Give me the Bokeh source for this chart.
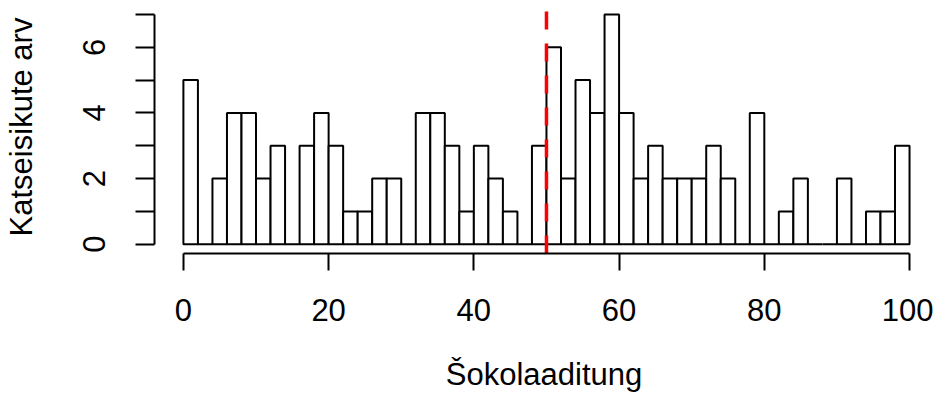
from bokeh.plotting import figure
from bokeh.models import Range1d, FixedTicker
from bokeh.embed import file_html
from bokeh.resources import INLINE

# ---- data (bins of width 2 from 0 to 100) ----
counts = [5, 0, 2, 4, 4, 2, 3, 0, 3, 4,
          3, 1, 1, 2, 2, 0, 4, 4, 3, 1,
          3, 2, 1, 0, 3, 6, 2, 5, 4, 7,
          4, 2, 3, 2, 2, 2, 3, 2, 0, 4,
          0, 1, 2, 0, 0, 2, 0, 1, 1, 3]
bin_width = 2
bin_left = [i * bin_width for i in range(len(counts))]
bin_right = [b + bin_width for b in bin_left]
bin_bottom = [0] * len(counts)
threshold = 50
x_ticks = [0, 20, 40, 60, 80, 100]
y_ticks = [0, 1, 2, 3, 4, 5, 6, 7]
y_tick_labels = {0: "0", 1: "", 2: "2", 3: "", 4: "4", 5: "", 6: "6", 7: ""}
x_title = "Šokolaaditung"
y_title = "Katseisikute arv"

FONT = "Liberation Sans"
FS = "31px"

x_start, x_end = -3.98, 103.3
y_start, y_end = -0.282, 7.424

p = figure(width=933, height=394, output_backend="svg", toolbar_location=None,
           x_range=Range1d(x_start, x_end), y_range=Range1d(y_start, y_end),
           min_border_left=152, min_border_right=0, min_border_top=0,
           min_border_bottom=140)
p.outline_line_color = None
p.xgrid.grid_line_color = None
p.ygrid.grid_line_color = None
p.background_fill_color = "white"
p.border_fill_color = "white"

p.quad(left=bin_left, right=bin_right, bottom=bin_bottom, top=counts,
       fill_color="white", line_color="black", line_width=2)

p.segment(x0=[threshold], y0=[y_start], x1=[threshold], y1=[y_end],
          line_color="#FF0000", line_width=3.5, line_dash="18 14")

# x axis
xa = p.xaxis[0]
xa.ticker = FixedTicker(ticks=x_ticks)
xa.bounds = (x_ticks[0], x_ticks[-1])
xa.minor_tick_line_color = None
xa.major_tick_in = 0
xa.major_tick_out = 17
xa.major_tick_line_width = 2
xa.axis_line_width = 2
xa.axis_line_color = "black"
xa.major_tick_line_color = "black"
xa.major_label_text_font = FONT
xa.major_label_text_font_size = FS
xa.major_label_text_color = "black"
xa.major_label_standoff = 28
xa.axis_label = x_title
xa.axis_label_text_font = FONT
xa.axis_label_text_font_size = FS
xa.axis_label_text_font_style = "normal"
xa.axis_label_text_color = "black"
xa.axis_label_standoff = 33

# y axis
ya = p.yaxis[0]
ya.ticker = FixedTicker(ticks=y_ticks)
ya.major_label_overrides = y_tick_labels
ya.bounds = (y_ticks[0], y_ticks[-1])
ya.minor_tick_line_color = None
ya.major_tick_in = 0
ya.major_tick_out = 19
ya.major_tick_line_width = 2
ya.axis_line_width = 2
ya.axis_line_color = "black"
ya.major_tick_line_color = "black"
ya.major_label_orientation = "vertical"
ya.major_label_text_font = FONT
ya.major_label_text_font_size = FS
ya.major_label_text_color = "black"
ya.major_label_standoff = 30
ya.axis_label = y_title
ya.axis_label_text_font = FONT
ya.axis_label_text_font_size = FS
ya.axis_label_text_font_style = "normal"
ya.axis_label_text_color = "black"
ya.axis_label_standoff = 42

open("out.html", "w").write(file_html(p, INLINE))
